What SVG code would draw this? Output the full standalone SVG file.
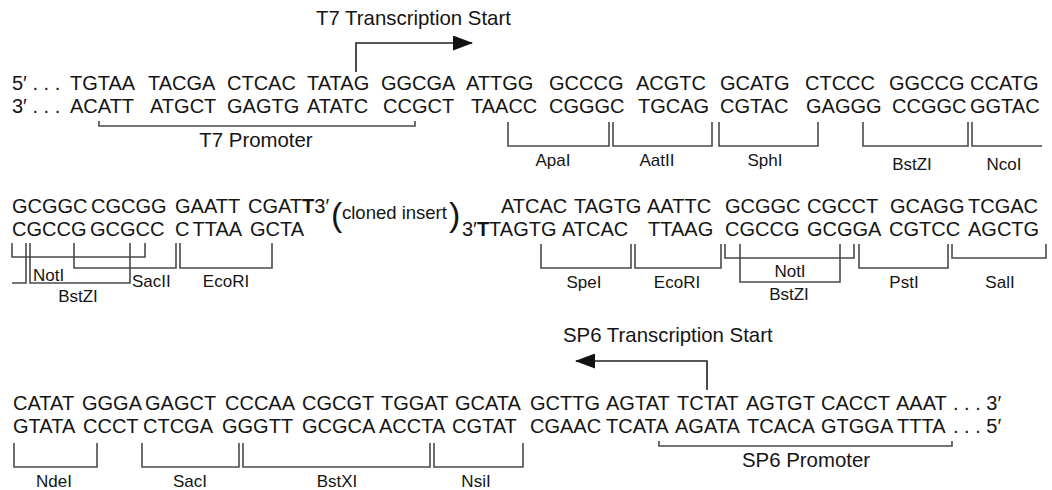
<svg xmlns="http://www.w3.org/2000/svg" width="1052" height="490" viewBox="0 0 1052 490">
<style>
text{font-family:"Liberation Sans",Arial,Helvetica,sans-serif;fill:#151515}
.s{font-size:20px}
.t{font-size:20.4px}
.l{font-size:17px;text-anchor:middle}
.st{text-anchor:start}
.bd{font-weight:bold}
.br{fill:none;stroke:#4a4a4a;stroke-width:1.6}
.ar{fill:none;stroke:#222;stroke-width:1.6}
</style>
<defs>
<marker id="head" viewBox="0 0 20 15" refX="19" refY="7.5" markerWidth="20" markerHeight="15" markerUnits="userSpaceOnUse" orient="auto">
<path d="M0,0 L20,7.5 L0,15 Z" fill="#111"/>
</marker>
</defs>
<rect width="1052" height="490" fill="#fff"/>

<!-- Block 1 -->
<g id="t7-start">
<text class="t" x="316" y="25">T7 Transcription Start</text>
</g>
<g id="block1-top" class="s">
<text x="12" y="90">5′ . . .</text>
<text x="70" y="90">TGTAA</text>
<text x="148" y="90">TACGA</text>
<text x="227" y="90">CTCAC</text>
<text x="307" y="90">TATAG</text>
<text x="381" y="90">GGCGA</text>
<text x="466" y="90">ATTGG</text>
<text x="549" y="90">GCCCG</text>
<text x="636" y="90">ACGTC</text>
<text x="720" y="90">GCATG</text>
<text x="805" y="90">CTCCC</text>
<text x="889" y="90">GGCCG</text>
<text x="970" y="90">CCATG</text>
</g>
<g id="block1-bottom" class="s">
<text x="12" y="113">3′ . . .</text>
<text x="70" y="113">ACATT</text>
<text x="150" y="113">ATGCT</text>
<text x="227" y="113">GAGTG</text>
<text x="307" y="113">ATATC</text>
<text x="383" y="113">CCGCT</text>
<text x="471" y="113">TAACC</text>
<text x="549" y="113">CGGGC</text>
<text x="638" y="113">TGCAG</text>
<text x="720" y="113">CGTAC</text>
<text x="806" y="113">GAGGG</text>
<text x="892" y="113">CCGGC</text>
<text x="970" y="113">GGTAC</text>
</g>
<g id="block1-labels">
<text class="t" x="256" y="147" text-anchor="middle">T7 Promoter</text>
<text class="l" x="553" y="166">ApaI</text>
<text class="l" x="657" y="166">AatII</text>
<text class="l" x="765" y="166">SphI</text>
<text class="l" x="912" y="170">BstZI</text>
<text class="l" x="1004" y="170">NcoI</text>
</g>

<!-- Block 2 -->
<g id="block2-top" class="s">
<text x="12" y="213">GCGGC</text>
<text x="91" y="213">CGCGG</text>
<text x="175" y="213">GAATT</text>
<text x="248" y="213">CGAT<tspan class="bd">T</tspan>3′</text>
<text x="501" y="213">ATCAC</text>
<text x="574" y="213">TAGTG</text>
<text x="647" y="213">AATTC</text>
<text x="725" y="213">GCGGC</text>
<text x="807" y="213">CGCCT</text>
<text x="890" y="213">GCAGG</text>
<text x="968" y="213">TCGAC</text>
</g>
<g id="cloned-insert">
<text x="331" y="226" style="font-size:34px">(</text>
<text x="342" y="219" style="font-size:18.5px">cloned insert</text>
<text x="449" y="226" style="font-size:34px">)</text>
</g>
<g id="block2-bottom" class="s">
<text x="12" y="236">CGCCG</text>
<text x="90" y="236">GCGCC</text>
<text x="175" y="236">C<tspan dx="3">TTAA</tspan></text>
<text x="250" y="236">GCTA</text>
<text x="462" y="236">3′<tspan class="bd">T</tspan>TAGTG</text>
<text x="562" y="236">ATCAC</text>
<text x="648" y="236">TTAAG</text>
<text x="725" y="236">CGCCG</text>
<text x="807" y="236">GCGGA</text>
<text x="889" y="236">CGTCC</text>
<text x="968" y="236">AGCTG</text>
</g>
<g id="block2-labels">
<text class="l st" x="33" y="281">NotI</text>
<text class="l" x="78" y="302">BstZI</text>
<text class="l st" x="132" y="287">SacII</text>
<text class="l" x="226" y="287">EcoRI</text>
<text class="l" x="584" y="288">SpeI</text>
<text class="l" x="677" y="288">EcoRI</text>
<text class="l" x="790" y="277">NotI</text>
<text class="l" x="789" y="300">BstZI</text>
<text class="l" x="904" y="288">PstI</text>
<text class="l" x="1000" y="288">SalI</text>
</g>

<!-- Block 3 -->
<g id="sp6-start">
<text class="t" x="563" y="342">SP6 Transcription Start</text>
</g>
<g id="block3-top" class="s">
<text x="13" y="410">CATAT</text>
<text x="82" y="410">GGGA</text>
<text x="145" y="410">GAGCT</text>
<text x="225" y="410">CCCAA</text>
<text x="302" y="410">CGCGT</text>
<text x="381" y="410">TGGAT</text>
<text x="455" y="410">GCATA</text>
<text x="530" y="410">GCTTG</text>
<text x="606" y="410">AGTAT</text>
<text x="677" y="410">TCTAT</text>
<text x="746" y="410">AGTGT</text>
<text x="821" y="410">CACCT</text>
<text x="896" y="410">AAAT</text>
<text x="953" y="410">. . . 3′</text>
</g>
<g id="block3-bottom" class="s">
<text x="13" y="433">GTATA</text>
<text x="83" y="433">CCCT</text>
<text x="143" y="433">CTCGA</text>
<text x="222" y="433">GGGTT</text>
<text x="302" y="433">GCGCA</text>
<text x="379" y="433">ACCTA</text>
<text x="452" y="433">CGTAT</text>
<text x="530" y="433">CGAAC</text>
<text x="606" y="433">TCATA</text>
<text x="675" y="433">AGATA</text>
<text x="747" y="433">TCACA</text>
<text x="821" y="433">GTGGA</text>
<text x="897" y="433">TTTA</text>
<text x="953" y="433">. . . 5′</text>
</g>
<g id="block3-labels">
<text class="t" x="806" y="467" text-anchor="middle">SP6 Promoter</text>
<text class="l" x="54" y="487">NdeI</text>
<text class="l" x="190" y="487">SacI</text>
<text class="l" x="337" y="487">BstXI</text>
<text class="l" x="476" y="487">NsiI</text>
</g>

<g id="connectors">
<!-- arrows -->
<path class="ar" d="M356,72 V43 H472" marker-end="url(#head)"/>
<path class="ar" d="M707,390 V361 H576" marker-end="url(#head)"/>
<!-- block 1 brackets -->
<path class="br" d="M99,121 V126 H415 V121"/>
<path class="br" d="M508,122 V146 H609 V122"/>
<path class="br" d="M613,122 V146 H712 V122"/>
<path class="br" d="M719,122 V146 H818 V122"/>
<path class="br" d="M863,122 V146 H968 V122"/>
<path class="br" d="M972,122 V146 H1042"/>
<!-- block 2 brackets -->
<path class="br" d="M12,243 V257 H145 V243"/>
<path class="br" d="M12,283 H26 V243"/>
<path class="br" d="M30,243 V283 H130 V243"/>
<path class="br" d="M74,243 V268 H176 V243"/>
<path class="br" d="M180,243 V268 H272 V243"/>
<path class="br" d="M541,244 V268 H631 V244"/>
<path class="br" d="M635,244 V268 H721 V244"/>
<path class="br" d="M725,244 V258 H854 V244"/>
<path class="br" d="M740,244 V282 H840 V244"/>
<path class="br" d="M859,244 V268 H948 V244"/>
<path class="br" d="M952,244 V258 H1046 V244"/>
<!-- block 3 brackets -->
<path class="br" d="M659,441 V446 H952 V441"/>
<path class="br" d="M14,443 V467 H97 V443"/>
<path class="br" d="M142,443 V467 H239 V443"/>
<path class="br" d="M243,443 V467 H430 V443"/>
<path class="br" d="M434,443 V467 H523 V443"/>
</g>
</svg>
